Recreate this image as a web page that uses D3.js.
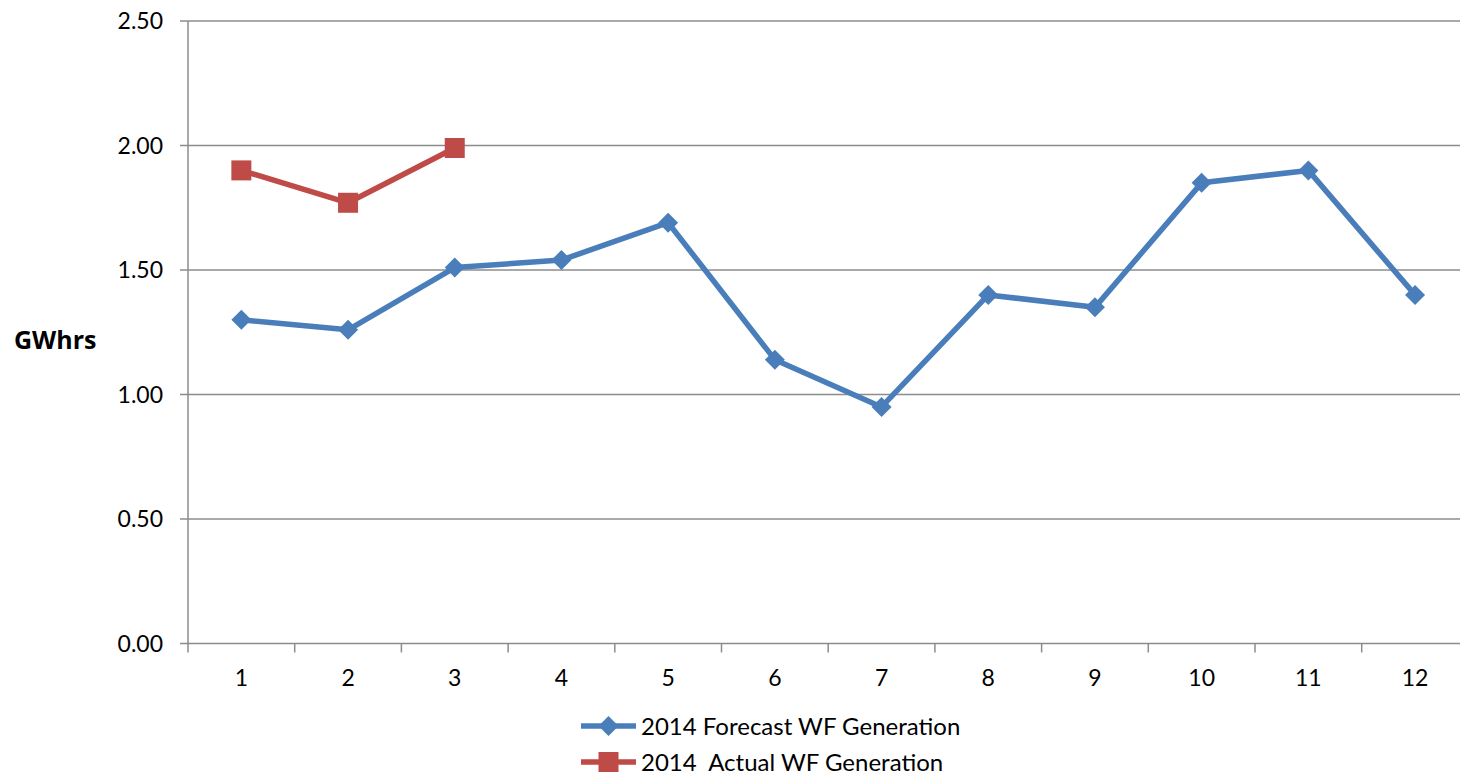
<!DOCTYPE html>
<html>
<head>
<meta charset="utf-8">
<script src="https://cdn.jsdelivr.net/npm/d3@7"></script>
<style>
  html, body { margin: 0; padding: 0; background: #fff; }
  svg { display: block; }
  text { font-family: Lato, "Open Sans", sans-serif; fill: #000; }
</style>
</head>
<body>
<svg id="chart" width="1460" height="777"></svg>
<script>
// Monthly wind farm generation, 2014 (GWhrs)
const months = [1, 2, 3, 4, 5, 6, 7, 8, 9, 10, 11, 12];
const forecast = [1.30, 1.26, 1.51, 1.54, 1.69, 1.14, 0.95, 1.40, 1.35, 1.85, 1.90, 1.40];
const actual = [1.90, 1.77, 1.99];
const yTicks = [0, 0.5, 1.0, 1.5, 2.0, 2.5];
const seriesNames = ["2014 Forecast WF Generation", "2014  Actual WF Generation"];
const yTitle = "GWhrs";

const BLUE = "#4A7EBB";
const RED = "#BE4B48";
const GRID = "#8c8c8c";

const svg = d3.select("#chart");
const plotLeft = 188, plotTop = 21, plotBottom = 643.5, bandW = 106.7;
const plotRight = plotLeft + bandW * months.length;

const x = d3.scaleBand().domain(months).range([plotLeft, plotRight]).padding(0);
const y = d3.scaleLinear().domain([0, 2.5]).range([plotBottom, plotTop]);

// horizontal gridlines with short outward ticks
svg.append("g").selectAll("line").data(yTicks).join("line")
  .attr("x1", plotLeft - 8).attr("x2", plotRight)
  .attr("y1", d => y(d)).attr("y2", d => y(d))
  .attr("stroke", GRID).attr("stroke-width", 1.5);

// y-axis line
svg.append("line")
  .attr("x1", plotLeft).attr("x2", plotLeft)
  .attr("y1", plotTop).attr("y2", plotBottom + 9)
  .attr("stroke", GRID).attr("stroke-width", 1.5);

// x tick marks at category boundaries
svg.append("g").selectAll("line").data(months.slice(1)).join("line")
  .attr("x1", d => x(d)).attr("x2", d => x(d))
  .attr("y1", plotBottom).attr("y2", plotBottom + 9)
  .attr("stroke", GRID).attr("stroke-width", 1.5);

// y tick labels
svg.append("g").selectAll("text").data(yTicks).join("text")
  .attr("x", 163).attr("y", d => y(d))
  .attr("dy", "0.36em")
  .attr("text-anchor", "end")
  .attr("font-size", 23)
  .text(d => d3.format(".2f")(d));

// x tick labels
svg.append("g").selectAll("text").data(months).join("text")
  .attr("x", d => x(d) + x.bandwidth() / 2).attr("y", 678)
  .attr("dy", "0.36em")
  .attr("text-anchor", "middle")
  .attr("font-size", 23)
  .text(d => d);

// y-axis title
svg.append("text")
  .attr("x", 14).attr("y", 339.5)
  .attr("dy", "0.36em")
  .attr("font-size", 25).attr("font-weight", "bold")
  .style("font-family", "'Open Sans', sans-serif")
  .text(yTitle);

const cx = d => x(d) + x.bandwidth() / 2;
const line = d3.line().x((d, i) => cx(months[i])).y(d => y(d));

// forecast series
svg.append("path").datum(forecast)
  .attr("d", line).attr("fill", "none")
  .attr("stroke", BLUE).attr("stroke-width", 5.5).attr("stroke-linejoin", "round");
const diamond = d3.symbol().type(d3.symbolSquare).size(200);
svg.append("g").selectAll("path").data(forecast).join("path")
  .attr("d", diamond)
  .attr("transform", (d, i) => `translate(${cx(months[i])},${y(d)}) rotate(45)`)
  .attr("fill", BLUE);

// actual series
svg.append("path").datum(actual)
  .attr("d", line).attr("fill", "none")
  .attr("stroke", RED).attr("stroke-width", 5.5).attr("stroke-linejoin", "round");
const square = d3.symbol().type(d3.symbolSquare).size(400);
svg.append("g").selectAll("path").data(actual).join("path")
  .attr("d", square)
  .attr("transform", (d, i) => `translate(${cx(months[i])},${y(d)})`)
  .attr("fill", RED);

// legend
const legend = svg.append("g");
const legendRows = [
  { name: seriesNames[0], color: BLUE, sym: diamond, rot: 45, y: 726 },
  { name: seriesNames[1], color: RED, sym: square, rot: 0, y: 762 }
];
legendRows.forEach(r => {
  legend.append("line")
    .attr("x1", 581).attr("x2", 636).attr("y1", r.y).attr("y2", r.y)
    .attr("stroke", r.color).attr("stroke-width", 5.5);
  legend.append("path")
    .attr("d", r.sym)
    .attr("transform", `translate(608.5,${r.y}) rotate(${r.rot})`)
    .attr("fill", r.color);
  legend.append("text")
    .attr("x", 641).attr("y", r.y).attr("dy", "0.36em")
    .attr("font-size", 24)
    .style("white-space", "pre")
    .text(r.name);
});
</script>
</body>
</html>
